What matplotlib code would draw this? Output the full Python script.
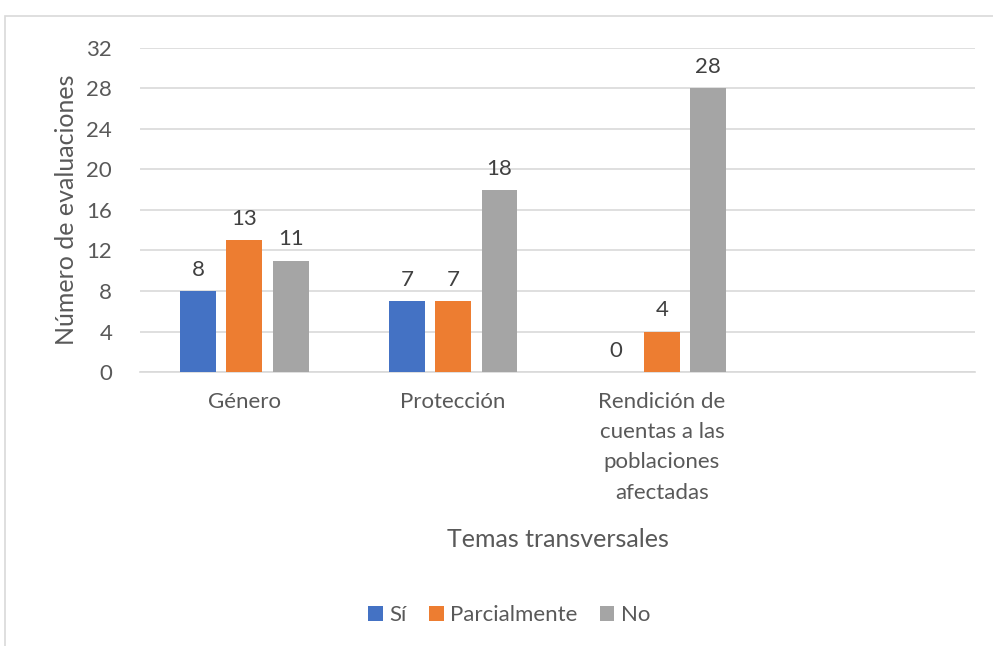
import numpy as np
import matplotlib.pyplot as plt
from matplotlib.patches import Rectangle, Patch

categories = ['Género', 'Protección', 'Rendición de\ncuentas a las\npoblaciones\nafectadas', '']
si = [8, 7, 0, None]
parcial = [13, 7, 4, None]
no = [11, 18, 28, None]
series_names = ['Sí', 'Parcialmente', 'No']
colors = ['#4472C4', '#ED7D31', '#A5A5A5']
yticks = [0, 4, 8, 12, 16, 20, 24, 28, 32]

plt.rcParams['font.family'] = ['Lato', 'DejaVu Sans']
text_color = '#595959'

fig = plt.figure(figsize=(9.93, 6.46), dpi=100)
ax = fig.add_axes([0.141, 0.424, 0.841, 0.502])

# outer chart border (Excel style)
fig.patches.append(Rectangle((0.005, -0.05), 1.2, 1.0256, transform=fig.transFigure,
                             fill=False, edgecolor='#D9D9D9', linewidth=1.2))

x = np.arange(len(categories))
width = 0.172
step = 0.222
for i, (vals, col) in enumerate(zip([si, parcial, no], colors)):
    xs = [xx for xx, v in zip(x, vals) if v is not None]
    vs = [v for v in vals if v is not None]
    bars = ax.bar(np.array(xs) + (i - 1) * step, vs, width, color=col, zorder=3)
    for b, v in zip(bars, vs):
        ax.text(b.get_x() + b.get_width() / 2, v + 1.1, str(v), ha='center', va='bottom',
                fontsize=16, color='#404040')

ax.set_xlim(-0.5, len(categories) - 0.5)
ax.set_ylim(0, 32)
ax.set_yticks(yticks)
ax.set_xticks(x)
ax.set_xticklabels(categories, fontsize=16, color=text_color, linespacing=1.65)
ax.tick_params(axis='y', labelsize=16, labelcolor=text_color, length=0, pad=20)
ax.tick_params(axis='x', length=0, pad=14)
ax.grid(axis='y', color='#D9D9D9', linewidth=1.2, zorder=0)
for s in ['top', 'right', 'left']:
    ax.spines[s].set_visible(False)
ax.spines['bottom'].set_color('#D9D9D9')
ax.spines['bottom'].set_linewidth(1.2)

ax.set_ylabel('Número de evaluaciones', fontsize=18, color=text_color, labelpad=6)
ax.set_xlabel('Temas transversales', fontsize=18, color=text_color, labelpad=18)

handles = [Patch(facecolor=c) for c in colors]
fig.legend(handles, series_names, loc='center', bbox_to_anchor=(0.513, 0.048), ncol=3,
           frameon=False, fontsize=16, labelcolor=text_color, handlelength=0.65,
           handleheight=0.65, handletextpad=0.3, columnspacing=1.0)

fig.savefig('out.png', dpi=100)
